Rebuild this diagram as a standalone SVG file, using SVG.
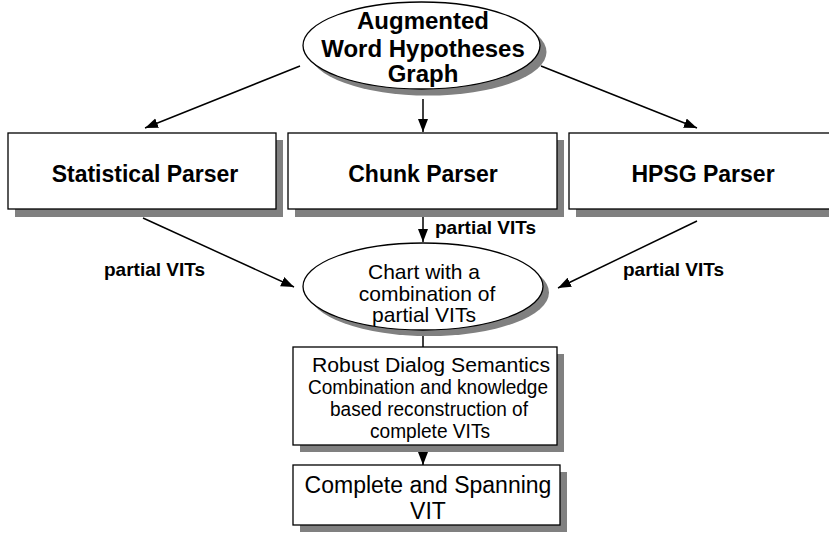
<svg xmlns="http://www.w3.org/2000/svg" width="829" height="534" viewBox="0 0 829 534">
<style>
.shadow{fill:#808080;stroke:none}
.node{fill:#fff;stroke:#000;stroke-width:1.3}
.big{font-family:"Liberation Sans",Arial,sans-serif;font-weight:bold;font-size:23px;text-anchor:middle;fill:#000}
.lbl{font-family:"Liberation Sans",Arial,sans-serif;font-weight:bold;font-size:19px;fill:#000}
.reg{font-family:"Liberation Sans",Arial,sans-serif;font-size:21px;text-anchor:middle;fill:#000}
.sm{font-family:"Liberation Sans",Arial,sans-serif;font-size:20px;fill:#000}
.conn{stroke:#000;stroke-width:1.5;fill:none}
</style>
<defs>
<marker id="ah" markerUnits="userSpaceOnUse" markerWidth="14" markerHeight="12" refX="13" refY="5" orient="auto">
<path d="M0,0 L13,5 L0,10 z" fill="#000"/>
</marker>
</defs>
<rect width="829" height="534" fill="#fff"/>
<g id="connectors">
<line class="conn" x1="300" y1="66" x2="145" y2="128" marker-end="url(#ah)"/>
<line class="conn" x1="423" y1="99" x2="423" y2="132" marker-end="url(#ah)"/>
<line class="conn" x1="541" y1="66" x2="697" y2="128" marker-end="url(#ah)"/>
<line class="conn" x1="423" y1="217" x2="423" y2="242" marker-end="url(#ah)"/>
<line class="conn" x1="143" y1="218" x2="294" y2="287" marker-end="url(#ah)"/>
<line class="conn" x1="697" y1="221" x2="558" y2="288" marker-end="url(#ah)"/>
<line class="conn" x1="423" y1="333" x2="423" y2="347"/>
<line class="conn" x1="423" y1="452" x2="423" y2="465" marker-end="url(#ah)"/>
<text class="lbl" x="435" y="234">partial VITs</text>
<text class="lbl" x="104" y="276">partial VITs</text>
<text class="lbl" x="623" y="276">partial VITs</text>
</g>
<g id="augmented">
<ellipse class="shadow" cx="428" cy="52" rx="118.5" ry="43.5"/>
<ellipse class="node" cx="421.5" cy="45.5" rx="118.5" ry="43.5"/>
<text class="big" x="423" y="29" style="font-size:24px">Augmented</text>
<text class="big" x="423" y="57" style="font-size:24px">Word Hypotheses</text>
<text class="big" x="423" y="82" style="font-size:24px">Graph</text>
</g>
<g id="statistical">
<rect class="shadow" x="15" y="140" width="268" height="77"/>
<rect class="node" x="8" y="133" width="268" height="76"/>
<text class="big" x="145" y="182">Statistical Parser</text>
</g>
<g id="chunk">
<rect class="shadow" x="295" y="140" width="269" height="77"/>
<rect class="node" x="288" y="133" width="269" height="76"/>
<text class="big" x="423" y="182">Chunk Parser</text>
</g>
<g id="hpsg">
<rect class="shadow" x="576" y="140" width="280" height="77"/>
<rect class="node" x="569" y="133" width="280" height="76"/>
<text class="big" x="703" y="182">HPSG Parser</text>
</g>
<g id="chart">
<ellipse class="shadow" cx="429" cy="292.5" rx="120" ry="43.5"/>
<ellipse class="node" cx="423" cy="286.5" rx="120" ry="43.5"/>
<text class="reg" x="424" y="279">Chart with a</text>
<text class="reg" x="427" y="301">combination of</text>
<text class="reg" x="424" y="322">partial VITs</text>
</g>
<g id="robust">
<rect class="shadow" x="300" y="354" width="264" height="98"/>
<rect class="node" x="293" y="347" width="264" height="98"/>
<text class="sm" x="312" y="372" textLength="238" lengthAdjust="spacingAndGlyphs">Robust Dialog Semantics</text>
<text class="sm" x="308" y="394" textLength="240" lengthAdjust="spacingAndGlyphs">Combination and knowledge</text>
<text class="sm" x="330" y="416" textLength="198" lengthAdjust="spacingAndGlyphs">based reconstruction of</text>
<text class="sm" x="370" y="438" textLength="120" lengthAdjust="spacingAndGlyphs">complete VITs</text>
</g>
<g id="complete">
<rect class="shadow" x="300" y="472" width="267" height="60"/>
<rect class="node" x="293" y="465" width="267" height="60"/>
<text class="reg" x="428" y="493" style="font-size:23px">Complete and Spanning</text>
<text class="reg" x="428" y="519" style="font-size:23px">VIT</text>
</g>
</svg>
